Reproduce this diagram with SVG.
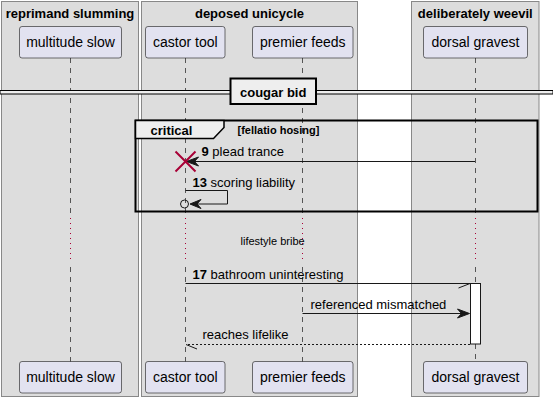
<svg xmlns="http://www.w3.org/2000/svg" width="553" height="402" viewBox="0 0 553 402">
<defs>
<style>
.grp{fill:#DDDDDD;stroke:#888888;stroke-width:1}
.gt{font-family:"Liberation Sans",Arial,sans-serif;font-size:13px;font-weight:bold;fill:#000;text-anchor:middle}
.pbox{fill:#E2E2F0;stroke:#181818;stroke-width:0.6}
.pt{font-family:"Liberation Sans",Arial,sans-serif;font-size:14px;fill:#000;text-anchor:middle}
.life{stroke:#555555;stroke-width:1;stroke-dasharray:5,5;fill:none}
.dot{stroke:#A80036;stroke-width:1;stroke-dasharray:1,4;fill:none}
.msg{stroke:#181818;stroke-width:1;fill:none}
.dash{stroke:#181818;stroke-width:1;stroke-dasharray:2,2;fill:none}
.head{fill:#181818;stroke:#181818;stroke-width:1}
.mt{font-family:"Liberation Sans",Arial,sans-serif;font-size:13px;fill:#000}
.b{font-weight:bold}
</style>
</defs>
<rect x="0" y="0" width="553" height="402" fill="#FFFFFF"/>
<g id="box-reprimand">
<rect class="grp" x="1.5" y="1.5" width="137" height="395"/>
<text class="gt" x="70" y="18">reprimand slumming</text>
</g>
<g id="box-deposed">
<rect class="grp" x="141.5" y="1.5" width="216" height="395"/>
<text class="gt" x="249.5" y="18">deposed unicycle</text>
</g>
<g id="box-deliberately">
<rect class="grp" x="411.5" y="1.5" width="127.5" height="395"/>
<text class="gt" x="475.3" y="18">deliberately weevil</text>
</g>
<g id="lifelines">
<path class="life" d="M70.5,58 V213 M70.5,267 V362 M185.5,58 V213 M185.5,267 V362 M302.5,58 V213 M302.5,267 V362 M475.5,58 V213 M475.5,267 V283 M475.5,344 V362"/>
<path class="dot" d="M70.5,218 V263 M185.5,218 V263 M302.5,218 V263 M475.5,218 V263"/>
</g>
<g id="separator">
<rect x="0" y="90.5" width="553" height="3.5" fill="#EEEEEE" stroke="#000" stroke-width="1"/>
<rect x="230.5" y="78.5" width="85.5" height="25.5" fill="#EEEEEE" stroke="#000" stroke-width="2"/>
<text class="gt" x="273.2" y="96.5">cougar bid</text>
</g>
<g id="critical-frame">
<rect x="135.5" y="120.5" width="402" height="91" fill="none" stroke="#000" stroke-width="2"/>
<path d="M135.5,120.5 H224 V127.5 L213.5,138.5 H135.5 Z" fill="#EEEEEE" stroke="#000" stroke-width="1.5"/>
<text x="150.5" y="135" font-family="Liberation Sans,Arial,sans-serif" font-size="13px" font-weight="bold" fill="#000">critical</text>
<text x="237.5" y="134" font-family="Liberation Sans,Arial,sans-serif" font-size="11px" font-weight="bold" fill="#000">[fellatio hosing]</text>
</g>
<g id="activation">
<rect x="470.5" y="283.5" width="10" height="60.5" fill="#FFFFFF" stroke="#181818" stroke-width="1"/>
</g>
<g id="connectors">
<g id="m9">
<line class="msg" x1="475" y1="161.5" x2="188" y2="161.5"/>
<polygon class="head" points="186.5,161.5 198.5,157 194.5,161.5 198.5,166"/>
<path d="M175.5,151.5 L195.5,171.5 M195.5,151.5 L175.5,171.5" stroke="#A80036" stroke-width="2" fill="none"/>
<text class="mt" x="201.5" y="156"><tspan class="b">9</tspan> plead trance</text>
</g>
<g id="m13">
<path class="msg" d="M185.5,190.5 H227.5 V204 H191"/>
<polygon class="head" points="190,204 201,199.5 197,204 201,208.5"/>
<circle cx="184.5" cy="204" r="4" fill="none" stroke="#181818" stroke-width="1"/>
<text class="mt" x="192.5" y="187"><tspan class="b">13</tspan> scoring liability</text>
</g>
<g id="m-delay">
<text x="240.5" y="245" font-family="Liberation Sans,Arial,sans-serif" font-size="11px" fill="#000">lifestyle bribe</text>
</g>
<g id="m17">
<line class="msg" x1="185.5" y1="283.5" x2="470" y2="283.5"/>
<line class="msg" x1="470" y1="283.5" x2="458.5" y2="288"/>
<text class="mt" x="192.5" y="278.5"><tspan class="b">17</tspan> bathroom uninteresting</text>
</g>
<g id="m-ref">
<line class="msg" x1="302.5" y1="313.5" x2="468" y2="313.5"/>
<polygon class="head" points="469.5,313.5 457.5,309 461.5,313.5 457.5,318"/>
<text class="mt" x="310.5" y="308.5">referenced mismatched</text>
</g>
<g id="m-reaches">
<line class="dash" x1="470" y1="344.5" x2="186" y2="344.5"/>
<line class="msg" x1="186" y1="344.5" x2="197" y2="349"/>
<text class="mt" x="202.5" y="338.5">reaches lifelike</text>
</g>
</g>
<g id="p-multitude">
<rect class="pbox" x="19.5" y="26.5" width="102" height="31.5" rx="2.5"/>
<text class="pt" x="70.5" y="47">multitude slow</text>
<rect class="pbox" x="19.5" y="361.5" width="102" height="31.5" rx="2.5"/>
<text class="pt" x="70.5" y="382">multitude slow</text>
</g>
<g id="p-castor">
<rect class="pbox" x="145.5" y="26.5" width="79.5" height="31.5" rx="2.5"/>
<text class="pt" x="185.3" y="47">castor tool</text>
<rect class="pbox" x="145.5" y="361.5" width="79.5" height="31.5" rx="2.5"/>
<text class="pt" x="185.3" y="382">castor tool</text>
</g>
<g id="p-premier">
<rect class="pbox" x="252.5" y="26.5" width="100.5" height="31.5" rx="2.5"/>
<text class="pt" x="302.7" y="47">premier feeds</text>
<rect class="pbox" x="252.5" y="361.5" width="100.5" height="31.5" rx="2.5"/>
<text class="pt" x="302.7" y="382">premier feeds</text>
</g>
<g id="p-dorsal">
<rect class="pbox" x="423.5" y="26.5" width="104" height="31.5" rx="2.5"/>
<text class="pt" x="475.5" y="47">dorsal gravest</text>
<rect class="pbox" x="423.5" y="361.5" width="104" height="31.5" rx="2.5"/>
<text class="pt" x="475.5" y="382">dorsal gravest</text>
</g>
</svg>
